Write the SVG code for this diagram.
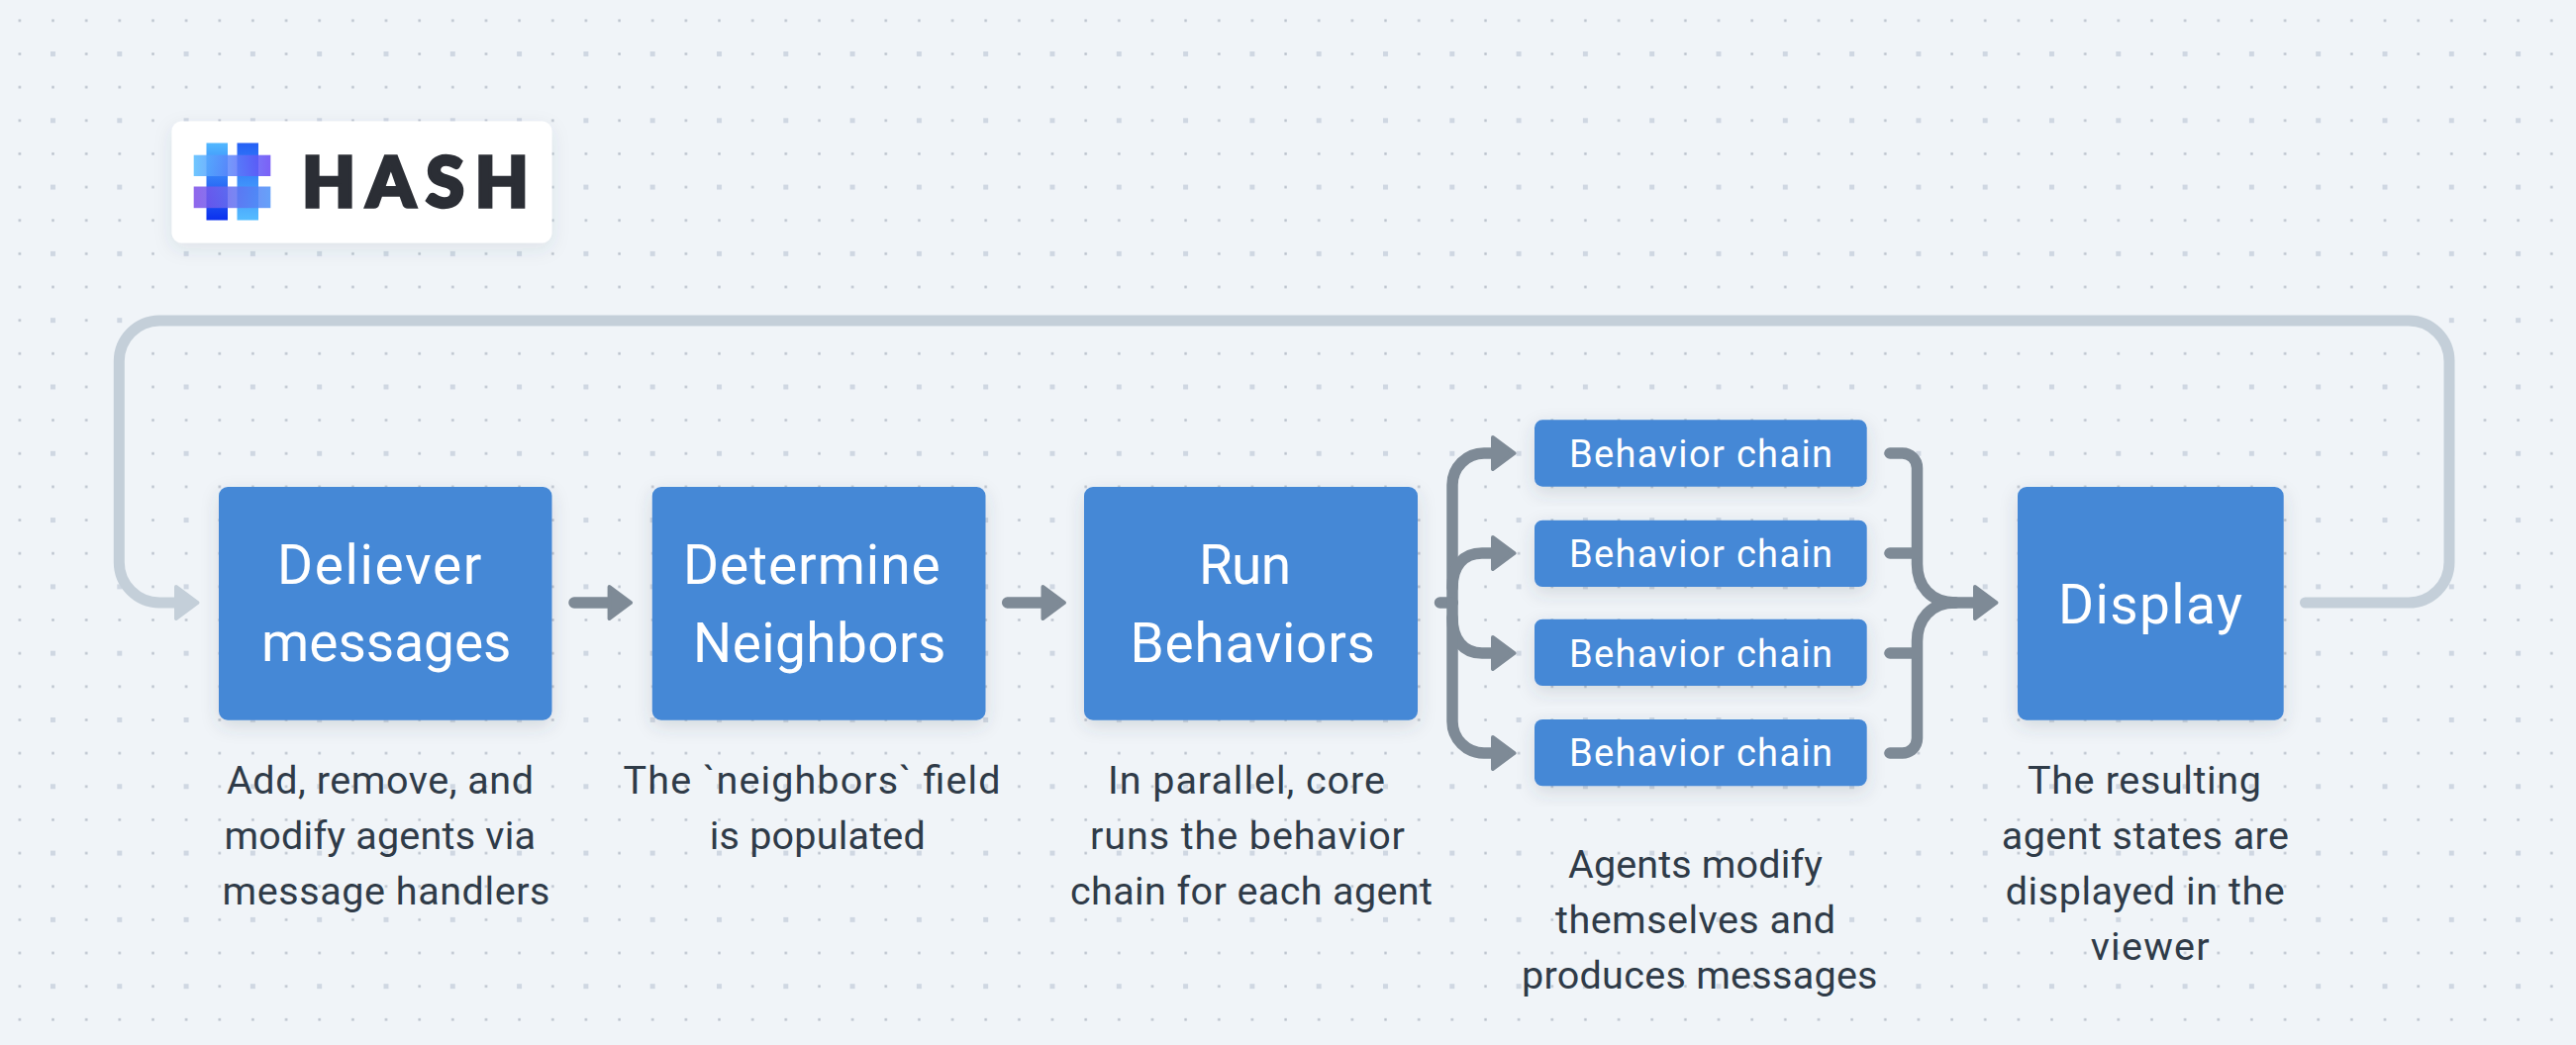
<svg xmlns="http://www.w3.org/2000/svg" width="2602" height="1056" viewBox="0 0 2602 1056">
<style>
.box{fill:#4588d6;filter:url(#sh)}
.t{font-family:"Roboto","Liberation Sans",sans-serif}
.title{font-size:55px;fill:#fff}
.chain{font-size:38px;fill:#fff}
.cap{font-size:39.5px;fill:#2f3b48}
.g{fill:none;stroke:#7e8a96;stroke-width:11.5;stroke-linecap:round}
.l{fill:none;stroke:#c4cfd9;stroke-width:11;stroke-linecap:round}
.m{marker-end:url(#ag)}
</style>
<defs>
<pattern id="dots" x="51" y="52" width="67.3" height="67.3" patternUnits="userSpaceOnUse">
<rect x="0" y="0" width="5" height="5" fill="#cfd7e2"/>
<rect x="35" y="1.3" width="2.4" height="2.4" fill="#b6bec9"/>
<rect x="1.3" y="34.9" width="2.4" height="2.4" fill="#b6bec9"/>
<rect x="35" y="34.9" width="2.4" height="2.4" fill="#b6bec9"/>
</pattern>
<filter id="sh" x="-20%" y="-20%" width="140%" height="150%"><feDropShadow dx="0" dy="6" stdDeviation="9" flood-color="#3b4a5c" flood-opacity=".16"/></filter>
<filter id="sh2" x="-10%" y="-20%" width="120%" height="150%"><feDropShadow dx="0" dy="6" stdDeviation="9" flood-color="#3b4a5c" flood-opacity=".10"/></filter>
<marker id="ag" markerUnits="userSpaceOnUse" markerWidth="31" markerHeight="40" viewBox="-3 -20 31 40" refX="0" refY="0" orient="auto"><polygon points="2,-16 23.5,0 2,16" fill="#7e8a96" stroke="#7e8a96" stroke-width="4" stroke-linejoin="round"/></marker>
<marker id="al" markerUnits="userSpaceOnUse" markerWidth="31" markerHeight="40" viewBox="-3 -20 31 40" refX="0" refY="0" orient="auto"><polygon points="2,-16 23.5,0 2,16" fill="#c4cfd9" stroke="#c4cfd9" stroke-width="4" stroke-linejoin="round"/></marker>
<linearGradient id="v1" x1="0" y1="0" x2="0" y2="1"><stop offset="0" stop-color="#52b8ff"/><stop offset="1" stop-color="#0b30ee"/></linearGradient>
<linearGradient id="v2" x1="0" y1="0" x2="0" y2="1"><stop offset="0" stop-color="#2560f5"/><stop offset="1" stop-color="#55bcff"/></linearGradient>
<linearGradient id="h1" x1="0" y1="0" x2="1" y2="0"><stop offset="0" stop-color="#55bcff"/><stop offset="1" stop-color="#6445f5"/></linearGradient>
<linearGradient id="h2" x1="0" y1="0" x2="1" y2="0"><stop offset="0" stop-color="#7c4ce8"/><stop offset="1" stop-color="#4a90f8"/></linearGradient>
</defs>
<rect width="2602" height="1056" fill="#f0f4f8"/>
<rect width="2602" height="1056" fill="url(#dots)"/>

<g id="logo">
<rect x="173.5" y="122.5" width="384" height="123" rx="10" fill="#fff" filter="url(#sh2)"/>
<rect x="208.5" y="144.5" width="21.5" height="78" fill="url(#v1)"/>
<rect x="239.5" y="144.5" width="21.5" height="78" fill="url(#v2)"/>
<rect x="195.7" y="156.7" width="77.6" height="21.3" fill="url(#h1)" opacity=".85"/>
<rect x="195.7" y="188.5" width="77.6" height="21.7" fill="url(#h2)" opacity=".85"/>
<text x="305" y="208.500" font-family="Lato,'Liberation Sans',sans-serif" font-weight="900" font-size="70" fill="#2b2e35" stroke="#2b2e35" stroke-width="3.500" stroke-linejoin="miter" textLength="229" lengthAdjust="spacing">HASH</text>
</g>

<g id="connectors">
<path class="l" marker-end="url(#al)" d="M2328.5 609H2433A41 41 0 0 0 2474 568V365A41 41 0 0 0 2433 324H161A41 41 0 0 0 120.300 365V568A41 41 0 0 0 161 609H176"/>
<path class="g m" d="M580 609H613.600"/>
<path class="g m" d="M1017.700 609H1051.500"/>
<path class="g" d="M1454.500 609H1467"/>
<path class="g m" d="M1467 609V490A32 32 0 0 1 1499 458H1506"/>
<path class="g m" d="M1467 594C1467 572 1478 559 1497 559H1506"/>
<path class="g m" d="M1467 624C1467 646 1478 660 1497 660H1506"/>
<path class="g m" d="M1467 609V729A32 32 0 0 0 1499 761H1506"/>
<path class="g" d="M1909 458H1921A15 15 0 0 1 1936.500 473V570C1936.500 592 1950 609 1975 609"/>
<path class="g" d="M1909 761H1921A15 15 0 0 0 1936.500 746V648C1936.500 626 1950 609 1975 609"/>
<path class="g" d="M1909 559H1936M1909 660H1936"/>
<path class="g m" d="M1975 609H1993"/>
</g>

<g id="node-deliver">
<rect class="box" x="221" y="492" width="336.500" height="235.700" rx="9"/>
<text class="t title" x="280" y="590" textLength="206.500" lengthAdjust="spacing">Deliever</text>
<text class="t title" x="264" y="668" textLength="252.500" lengthAdjust="spacing">messages</text>
<text class="t cap" x="229" y="802" textLength="310" lengthAdjust="spacing">Add, remove, and</text>
<text class="t cap" x="226.500" y="858" textLength="314.500" lengthAdjust="spacing">modify agents via</text>
<text class="t cap" x="224.500" y="914" textLength="331" lengthAdjust="spacing">message handlers</text>
</g>
<g id="node-neighbors">
<rect class="box" x="658.800" y="492" width="336.700" height="235.700" rx="9"/>
<text class="t title" x="690" y="590" textLength="259.600" lengthAdjust="spacing">Determine</text>
<text class="t title" x="700" y="669" textLength="255.500" lengthAdjust="spacing">Neighbors</text>
<text class="t cap" x="629.600" y="802" textLength="381" lengthAdjust="spacing">The `neighbors` field</text>
<text class="t cap" x="716.800" y="858" textLength="218" lengthAdjust="spacing">is populated</text>
</g>
<g id="node-run">
<rect class="box" x="1095" y="492" width="337" height="235.700" rx="9"/>
<text class="t title" x="1211" y="590" textLength="93" lengthAdjust="spacing">Run</text>
<text class="t title" x="1141.600" y="669" textLength="247.300" lengthAdjust="spacing">Behaviors</text>
<text class="t cap" x="1119" y="802" textLength="280" lengthAdjust="spacing">In parallel, core</text>
<text class="t cap" x="1101" y="858" textLength="318" lengthAdjust="spacing">runs the behavior</text>
<text class="t cap" x="1081" y="914" textLength="366" lengthAdjust="spacing">chain for each agent</text>
</g>
<g id="node-chain-1">
<rect class="box" x="1550" y="424.300" width="335.700" height="67.400" rx="8"/>
<text class="t chain" x="1585" y="472" textLength="266" lengthAdjust="spacing">Behavior chain</text>
</g>
<g id="node-chain-2">
<rect class="box" x="1550" y="525.700" width="335.700" height="67.300" rx="8"/>
<text class="t chain" x="1585" y="573" textLength="266" lengthAdjust="spacing">Behavior chain</text>
</g>
<g id="node-chain-3">
<rect class="box" x="1550" y="625.700" width="335.700" height="67.300" rx="8"/>
<text class="t chain" x="1585" y="673.500" textLength="266" lengthAdjust="spacing">Behavior chain</text>
</g>
<g id="node-chain-4">
<rect class="box" x="1550" y="727" width="335.700" height="67.300" rx="8"/>
<text class="t chain" x="1585" y="774" textLength="266" lengthAdjust="spacing">Behavior chain</text>
</g>
<g id="note-chains">
<text class="t cap" x="1584" y="887" textLength="257" lengthAdjust="spacing">Agents modify</text>
<text class="t cap" x="1571" y="943" textLength="283" lengthAdjust="spacing">themselves and</text>
<text class="t cap" x="1537" y="999" textLength="359.500" lengthAdjust="spacing">produces messages</text>
</g>
<g id="node-display">
<rect class="box" x="2038" y="492" width="268.700" height="235.700" rx="9"/>
<text class="t title" x="2079" y="630" textLength="186" lengthAdjust="spacing">Display</text>
<text class="t cap" x="2048" y="802" textLength="236" lengthAdjust="spacing">The resulting</text>
<text class="t cap" x="2021.700" y="858" textLength="290.300" lengthAdjust="spacing">agent states are</text>
<text class="t cap" x="2025.700" y="914" textLength="282" lengthAdjust="spacing">displayed in the</text>
<text class="t cap" x="2111.700" y="970" textLength="120" lengthAdjust="spacing">viewer</text>
</g>
</svg>
